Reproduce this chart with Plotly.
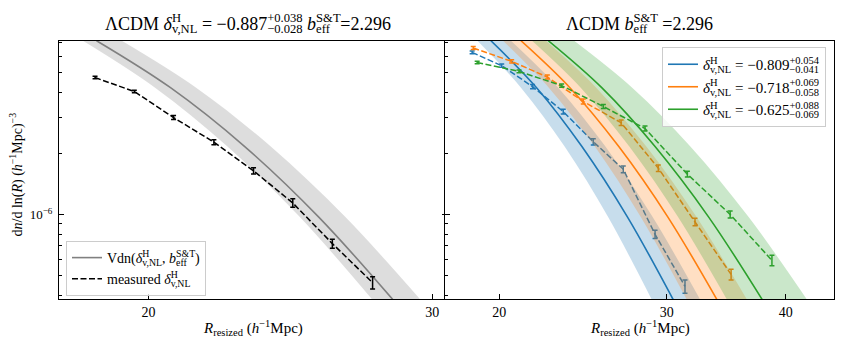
import numpy as np
import plotly.graph_objects as go

# ---- data ----
# measured void size function, left panel
R_meas = [18.53, 19.60, 20.73, 21.96, 23.24, 24.58, 26.01, 27.55]
n_meas = [4.72e-6, 4.03e-6, 3.00e-6, 2.27e-6, 1.64e-6, 1.14e-6, 7.19e-7, 4.62e-7]
n_meas_err = [0.066e-6, 0.056e-6, 0.069e-6, 0.064e-6, 0.057e-6, 0.054e-6, 0.037e-6, 0.032e-6]

# theory curves: R read at these dn/dlnR levels
n_levels = [7.17e-6, 4.21e-6, 2.16e-6, 9.71e-7, 3.82e-7]
R_vdn = [18.57, 20.64, 22.95, 25.51, 28.35]
R_vdn_lo = [18.21, 20.19, 22.39, 24.83, 27.53]
R_vdn_hi = [19.25, 21.41, 23.82, 26.50, 29.49]

# right panel, three delta values
R_blue = [18.73, 20.12, 21.68, 23.35, 25.11, 27.00, 29.16, 31.35]
n_blue = [6.28e-6, 5.40e-6, 4.26e-6, 3.21e-6, 2.28e-6, 1.67e-6, 7.99e-7, 4.43e-7]
err_blue = [0.100e-6, 0.099e-6, 0.098e-6, 0.089e-6, 0.079e-6, 0.065e-6, 0.037e-6, 0.033e-6]

R_orange = [18.78, 20.61, 22.47, 24.51, 26.86, 29.39, 32.12, 35.05]
n_orange = [6.60e-6, 5.67e-6, 4.75e-6, 3.60e-6, 2.83e-6, 1.69e-6, 9.19e-7, 5.07e-7]
err_orange = [0.106e-6, 0.104e-6, 0.109e-6, 0.099e-6, 0.091e-6, 0.062e-6, 0.038e-6, 0.031e-6]

R_green = [18.96, 20.98, 23.26, 25.73, 28.46, 31.53, 34.97, 38.69]
n_green = [5.60e-6, 5.06e-6, 4.31e-6, 3.40e-6, 2.65e-6, 1.58e-6, 1.00e-6, 5.95e-7]
err_green = [0.077e-6, 0.081e-6, 0.079e-6, 0.078e-6, 0.073e-6, 0.051e-6, 0.039e-6, 0.035e-6]

blue_mid = [19.60, 21.89, 24.43, 27.28, 30.46]
blue_lo = [18.97, 21.08, 23.43, 26.03, 28.92]
blue_hi = [20.57, 23.07, 25.86, 28.99, 32.51]
orange_mid = [21.08, 23.73, 26.71, 30.08, 33.86]
orange_lo = [20.18, 22.55, 25.21, 28.17, 31.48]
orange_hi = [22.39, 25.29, 28.55, 32.24, 36.41]
green_mid = [22.52, 25.63, 29.16, 33.20, 37.78]
green_lo = [21.65, 24.36, 27.40, 30.83, 34.69]
green_hi = [23.97, 27.59, 31.76, 36.57, 42.10]

deltas = ['−0.809', '−0.718', '−0.625']
d_plus = ['+0.054', '+0.069', '+0.088']
d_minus = ['−0.041', '−0.058', '−0.069']

y_minor = [4e-7, 5e-7, 6e-7, 7e-7, 8e-7, 9e-7, 2e-6, 3e-6, 4e-6, 5e-6, 6e-6, 7e-6]

FONT = 'Liberation Serif'
# page body has an 8px margin, so the figure is drawn 8px in from the corner
OFF = 8
FW, FH = 835, 329

def px(x):
    return (x - OFF) / FW

def py(y):
    return 1 - (y - OFF) / FH

NB = '\u00a0'

def stk(sup, sub, w_sup, w_sub, fs):
    # put sup straight above sub like LaTeX; widths in em of the small font
    a = 0.7 * fs * w_sup
    b = 0.7 * fs * w_sub
    s = (f'<sup>{sup}</sup><span style="letter-spacing:{-(0.25 * fs + a):.1f}px">{NB}</span>'
         f'<sub>{sub}</sub>')
    if a > b:
        s += f'<span style="letter-spacing:{(a - b) - 0.25 * fs:.1f}px">{NB}</span>'
    return s

def dHv(fs):
    return '<i>δ</i>' + stk('H', 'v,NL', 0.722, 2.083, fs)

def beff(fs):
    return '<i>b</i>' + stk('S&amp;T', 'eff', 1.945, 1.11, fs)

fig = go.Figure()

def band(lo, mid, hi, color, fill, xa, ya, name, legend, show):
    fig.add_trace(go.Scatter(x=lo, y=n_levels, mode='lines', line=dict(width=0, shape='spline'),
                             showlegend=False, hoverinfo='skip', xaxis=xa, yaxis=ya))
    fig.add_trace(go.Scatter(x=hi, y=n_levels, mode='lines', line=dict(width=0, shape='spline'),
                             fill='tonextx', fillcolor=fill, showlegend=False, hoverinfo='skip',
                             xaxis=xa, yaxis=ya))
    fig.add_trace(go.Scatter(x=mid, y=n_levels, mode='lines', line=dict(color=color, width=1.6, shape='spline'),
                             name=name, legend=legend, showlegend=show, xaxis=xa, yaxis=ya))

def measured(R, n, err, color, xa, ya, name, legend, show):
    fig.add_trace(go.Scatter(x=R, y=n, mode='lines', line=dict(color=color, width=1.5, dash='6px,2.5px'),
                             error_y=dict(type='data', array=err, color=color, thickness=1.5, width=2.5),
                             name=name, legend=legend, showlegend=show, xaxis=xa, yaxis=ya))

LFS1 = 14  # left legend
LFS2 = 15  # right legend
# left panel
band(R_vdn_lo, R_vdn, R_vdn_hi, 'gray', 'rgba(128,128,128,0.27)', 'x', 'y',
     'Vdn(' + dHv(LFS1) + ', ' + beff(LFS1) + ')', 'legend', True)
measured(R_meas, n_meas, n_meas_err, 'black', 'x', 'y', 'measured ' + dHv(LFS1), 'legend', True)

# right panel
right = [(blue_lo, blue_mid, blue_hi, R_blue, n_blue, err_blue, '#1f77b4', 'rgba(31,119,180,0.25)'),
         (orange_lo, orange_mid, orange_hi, R_orange, n_orange, err_orange, '#ff7f0e', 'rgba(255,127,14,0.25)'),
         (green_lo, green_mid, green_hi, R_green, n_green, err_green, '#2ca02c', 'rgba(44,160,44,0.25)')]
for (lo, mid, hi, R, n, err, col, fc), d, dp, dm in zip(right, deltas, d_plus, d_minus):
    lab = dHv(LFS2) + ' = ' + d + stk(dp, dm, 2.814, 2.814, LFS2)
    band(lo, mid, hi, col, fc, 'x2', 'y2', lab, 'legend2', True)
    measured(R, n, err, col, 'x2', 'y2', lab, 'legend2', False)

yrange = [-6.416, -5.146]

axis_common = dict(type='log', showline=True, linecolor='black', linewidth=1, mirror=True,
                   showgrid=False, zeroline=False, ticks='inside', ticklen=5, tickwidth=1,
                   tickcolor='black', automargin=False,
                   tickfont=dict(family=FONT, size=14, color='black'))
minor_y = dict(tickmode='array', tickvals=y_minor, ticks='inside', ticklen=3,
               tickcolor='black', showgrid=False)

fig.update_layout(
    width=FW, height=FH, margin=dict(l=0, r=0, t=0, b=0, autoexpand=False),
    plot_bgcolor='white', paper_bgcolor='white',
    font=dict(family=FONT, color='black'),
    xaxis=dict(axis_common, domain=[px(59), px(447)], range=[np.log10(17.6), np.log10(30.64)],
               tickvals=[20, 30], ticktext=['20', '30'], anchor='y'),
    xaxis2=dict(axis_common, domain=[px(445), px(834)], range=[np.log10(17.54), np.log10(44.96)],
                tickvals=[20, 30, 40], ticktext=['20', '30', '40'], anchor='y2'),
    yaxis=dict(axis_common, domain=[py(299), py(41)], range=yrange, mirror='allticks',
               tickvals=[1e-6], ticktext=['10<sup>−6</sup>'], anchor='x', minor=minor_y,
               ticklabelstandoff=3, tickfont=dict(family=FONT, size=13, color='black')),
    yaxis2=dict(axis_common, domain=[py(299), py(41)], range=yrange, showticklabels=False,
                tickvals=[1e-6], anchor='x2', minor=minor_y),
    legend=dict(x=px(66), y=py(241), xanchor='left', yanchor='top', traceorder='normal',
                bgcolor='rgba(255,255,255,0.8)', bordercolor='#cccccc', borderwidth=1,
                font=dict(family=FONT, size=LFS1), itemwidth=30),
    legend2=dict(x=px(662), y=py(47), xanchor='left', yanchor='top', traceorder='normal',
                 bgcolor='rgba(255,255,255,0.8)', bordercolor='#cccccc', borderwidth=1,
                 font=dict(family=FONT, size=LFS2), itemwidth=30),
    showlegend=True,
)

TFS = 18
title_font = dict(family=FONT, size=TFS, color='black')
fig.add_annotation(x=px(248), y=py(23), xref='paper', yref='paper', showarrow=False,
                   xanchor='center', yanchor='middle',
                   text='ΛCDM ' + dHv(TFS) + ' = −0.887' + stk('+0.038', '−0.028', 2.814, 2.814, TFS)
                        + ' ' + beff(TFS) + '=2.296', font=title_font)
fig.add_annotation(x=px(639.5), y=py(23), xref='paper', yref='paper', showarrow=False,
                   xanchor='center', yanchor='middle',
                   text='ΛCDM ' + beff(TFS) + ' =2.296', font=title_font)

lab_font = dict(family=FONT, size=15, color='black')
xlab = '<i>R</i><sub>resized</sub> (<i>h</i><sup>−1</sup>Mpc)'
for xc in [253, 639.5]:
    fig.add_annotation(x=px(xc), y=py(328), xref='paper', yref='paper', showarrow=False,
                       xanchor='center', yanchor='middle', text=xlab, font=lab_font)
fig.add_annotation(x=px(16.5), y=py(175), xref='paper', yref='paper', showarrow=False, textangle=-90,
                   xanchor='center', yanchor='middle',
                   text='d<i>n</i>/d ln(<i>R</i>) (<i>h</i><sup>−1</sup>Mpc)<sup>−3</sup>',
                   font=dict(family=FONT, size=14, color='black'))

fig.write_html("out.html")
